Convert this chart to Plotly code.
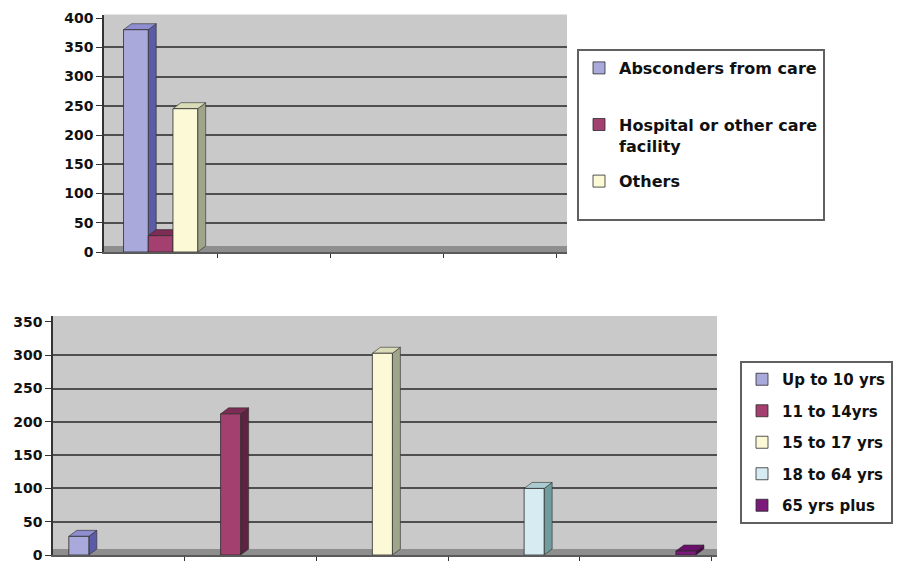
import plotly.graph_objects as go

# ---- data -------------------------------------------------------------
care_series = ["Absconders from care", "Hospital or other care facility", "Others"]
care_values = [380, 28, 245]          # all three sit in the first category slot
care_slots = 4                        # category slots on the upper x axis

age_groups = ["Up to 10 yrs", "11 to 14yrs", "15 to 17 yrs", "18 to 64 yrs", "65 yrs plus"]
age_values = [28, 212, 303, 100, 6]   # group i is drawn in category slot i

care_ticks = [0, 50, 100, 150, 200, 250, 300, 350, 400]
age_ticks = [0, 50, 100, 150, 200, 250, 300, 350]

# ---- style ------------------------------------------------------------
W, H = 903, 562
FONT = "DejaVu Sans"
faces = [  # front, side, top
    ("#A9A9DC", "#5B5BA6", "#8E8ED0"),
    ("#A3406F", "#5E2340", "#7D2D55"),
    ("#FBF9D6", "#9EA58A", "#DADCB8"),
    ("#D7EBF3", "#6F9C9C", "#AACBD0"),
    ("#7B1A7B", "#4A0A4A", "#6A106A"),
]
WALL = "#C9C9C9"
FLOOR = "#8E8E8E"
GRID = "#4F4F4F"

# panel geometry in pixels
top_px = dict(x0=104, x1=567, y0=252, y1=14.5)
bot_px = dict(x0=53, x1=717, y0=555, y1=316)
top_xrange = [-0.5, 3.59]
top_yrange = [0, 406]
bot_xrange = [-0.5, 4.54]
bot_yrange = [0, 359]
DEPTH_X, DEPTH_Y = 8, 6  # pixel depth of the 3D faces

fig = go.Figure()
shapes = []


def dom_x(p):
    return [p["x0"] / W, p["x1"] / W]


def dom_y(p):
    return [1 - p["y0"] / H, 1 - p["y1"] / H]


def add_bars(names, values, slots, n_series, gap, xr, yr, px, xa, ya, legend, labels):
    width = (1 - gap) / n_series
    unit_x = (px["x1"] - px["x0"]) / (xr[1] - xr[0])
    unit_y = (px["y0"] - px["y1"]) / (yr[1] - yr[0])
    dx = DEPTH_X / unit_x
    dy = DEPTH_Y / unit_y
    # floor strip
    shapes.append(dict(type="rect", xref=xa, yref=ya, x0=xr[0], x1=xr[1], y0=0, y1=dy,
                       fillcolor=FLOOR, line=dict(width=0), layer="between"))
    for i, (name, val, slot) in enumerate(zip(names, values, slots)):
        front, side, top = faces[i]
        offset = -(1 - gap) / 2 + i * width
        fig.add_trace(go.Bar(
            x=[slot], y=[val], name=labels[i], width=width, offset=offset,
            marker=dict(color=front, line=dict(color="#2B2B2B", width=0.8)),
            xaxis=xa, yaxis=ya, legend=legend,
            legendgroup=f"{legend}-{i}", hovertemplate=f"{name}: %{{y}}<extra></extra>",
        ))
        xl = slot + offset
        xr_ = xl + width
        shapes.append(dict(
            type="path", xref=xa, yref=ya, layer="between",
            path=f"M {xr_},0 L {xr_ + dx},{dy} L {xr_ + dx},{val + dy} L {xr_},{val} Z",
            fillcolor=side, line=dict(color="#2B2B2B", width=0.6)))
        shapes.append(dict(
            type="path", xref=xa, yref=ya, layer="between",
            path=f"M {xl},{val} L {xr_},{val} L {xr_ + dx},{val + dy} L {xl + dx},{val + dy} Z",
            fillcolor=top, line=dict(color="#2B2B2B", width=0.6)))


care_labels = ["Absconders from care<br> ", "Hospital or other care<br>facility", "Others<br> "]
add_bars(care_series, care_values, [0, 0, 0], 3, 0.345, top_xrange, top_yrange, top_px,
         "x", "y", "legend", care_labels)
add_bars(age_groups, age_values, list(range(len(age_groups))), 5, 0.24, bot_xrange, bot_yrange,
         bot_px, "x2", "y2", "legend2", age_groups)

tickfont = dict(family=FONT, size=14, color="#111111", weight="bold")


def yaxis(p, rng, ticks, anchor):
    return dict(domain=dom_y(p), range=rng, tickvals=ticks, ticktext=[str(t) for t in ticks],
                showgrid=False, zeroline=False, showline=True, linecolor="#333333", linewidth=1.5,
                ticks="outside", ticklen=6, tickcolor="#333333", tickfont=tickfont,
                ticklabeloverflow="allow",
                minor=dict(tickvals=ticks[1:-1], showgrid=True, gridcolor=GRID, gridwidth=2, ticks=""),
                anchor=anchor, automargin=False, fixedrange=True)


def xaxis(p, rng, n, anchor):
    return dict(domain=dom_x(p), range=rng, tickvals=[k + 0.5 for k in range(n)],
                showticklabels=False, showgrid=False, zeroline=False, showline=True,
                linecolor="#5A5A5A", linewidth=2, ticks="outside", ticklen=4, tickcolor="#333333",
                anchor=anchor, automargin=False, fixedrange=True)


fig.update_layout(
    width=W, height=H, margin=dict(l=0, r=0, t=0, b=0, autoexpand=False),
    paper_bgcolor="white", plot_bgcolor=WALL, barmode="overlay",
    xaxis=xaxis(top_px, top_xrange, care_slots, "y"),
    yaxis=yaxis(top_px, top_yrange, care_ticks, "x"),
    xaxis2=xaxis(bot_px, bot_xrange, len(age_groups), "y2"),
    yaxis2=yaxis(bot_px, bot_yrange, age_ticks, "x2"),
    legend=dict(x=577 / W, y=1 - 49 / H, xanchor="left", yanchor="top", bgcolor="white",
                bordercolor="#606060", borderwidth=2,
                font=dict(family=FONT, size=16, color="#111111", weight="bold"),
                traceorder="grouped", tracegroupgap=12, valign="top", itemwidth=30),
    legend2=dict(x=740 / W, y=1 - 361 / H, xanchor="left", yanchor="top", bgcolor="white",
                 bordercolor="#606060", borderwidth=2,
                 font=dict(family=FONT, size=15, color="#111111", weight="bold"),
                 traceorder="grouped", tracegroupgap=9, itemwidth=30),
    shapes=shapes,
    showlegend=True,
)

fig.write_html("out.html", config={"displayModeBar": False})
